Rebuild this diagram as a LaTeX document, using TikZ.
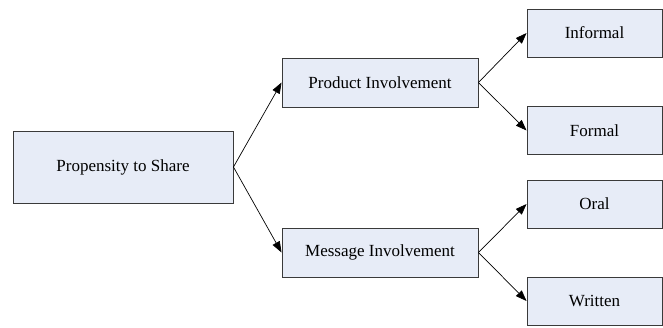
\documentclass[tikz,border=0pt]{standalone}
\usepackage{fontspec}
\setmainfont{Liberation Serif}
\usetikzlibrary{arrows.meta}
\definecolor{boxfill}{HTML}{E7ECF7}
\definecolor{boxline}{HTML}{3A3A3A}
\begin{document}
\begin{tikzpicture}[x=1pt,y=-1pt,
  box/.style={draw=boxline, fill=boxfill, line width=0.9pt, inner sep=0pt,
    font=\fontsize{17}{20}\selectfont},
  leaf/.style={box, minimum width=135, minimum height=48},
  mid/.style={box, minimum width=196, minimum height=49},
  link/.style={-{Triangle[length=11pt,width=8pt]}, line width=0.7pt}]
\useasboundingbox (0,0) rectangle (663,327);
% root
\node[box, minimum width=220, minimum height=72] (share) at (123,167) {Propensity to Share};
% second level
\node[mid] (prod) at (380,82.5) {Product Involvement};
\node[mid] (msg) at (380,252.5) {Message Involvement};
% leaves
\node[leaf] (inf) at (594.5,33) {Informal};
\node[leaf] (form) at (594.5,130.5) {Formal};
\node[leaf] (oral) at (594.5,204) {Oral};
\node[leaf] (writ) at (594.5,301) {Written};
% connectors
\draw[link] (share.east) -- (prod.west);
\draw[link] (share.east) -- (msg.west);
\draw[link] (prod.east) -- (inf.west);
\draw[link] (prod.east) -- (form.west);
\draw[link] (msg.east) -- (oral.west);
\draw[link] (msg.east) -- (writ.west);
\end{tikzpicture}
\end{document}
